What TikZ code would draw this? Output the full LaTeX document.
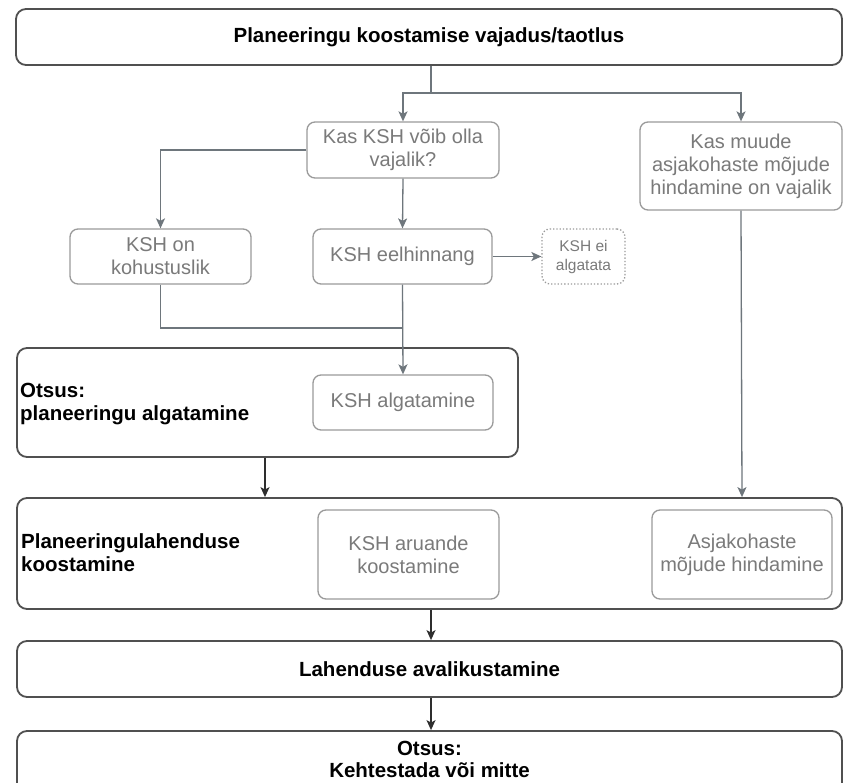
\documentclass[tikz,border=0pt]{standalone}
\usepackage{fontspec}
\setmainfont{Liberation Sans}
\usetikzlibrary{arrows.meta}
\definecolor{frame}{HTML}{505050}
\definecolor{softframe}{HTML}{9A9A9A}
\definecolor{softtext}{HTML}{7A7A7A}
\definecolor{linkgray}{HTML}{6E767C}
\definecolor{linkdark}{HTML}{2E2E2E}
\tikzset{
  mainbox/.style={draw=frame, line width=1.8pt, rounded corners=10pt, inner sep=0pt,
    font=\bfseries\fontsize{20.5}{23}\selectfont, text=black, align=center},
  subbox/.style={draw=softframe, line width=1.3pt, rounded corners=8pt, inner sep=0pt,
    font=\fontsize{20}{23}\selectfont, text=softtext, align=center},
  dotbox/.style={subbox, dotted, font=\fontsize{15.5}{19}\selectfont},
  boxlabel/.style={anchor=west, inner sep=0pt, align=left, text=black,
    font=\bfseries\fontsize{20.5}{23}\selectfont},
  centerlabel/.style={inner sep=0pt, align=center, text=black,
    font=\bfseries\fontsize{20.5}{22}\selectfont},
  tip/.style={-{Stealth[length=10pt,width=9pt,inset=2.5pt]}},
  link/.style={draw=linkgray, line width=1.3pt},
  flow/.style={link, tip},
  mainflow/.style={draw=linkdark, line width=1.3pt, tip},
}
\begin{document}
\begin{tikzpicture}[x=1pt, y=-1pt]
\useasboundingbox (0,0) rectangle (843,783);
\clip (0,0) rectangle (843,783);
\fill[white] (0,0) rectangle (843,783);

% top request box
\node[mainbox, minimum width=826pt, minimum height=56pt] (need) at (429,37)
  {Planeeringu koostamise vajadus/taotlus};

% screening questions
\node[subbox, minimum width=192pt, minimum height=56pt] (kas) at (403,150)
  {Kas KSH võib olla\\vajalik?};
\node[subbox, minimum width=202pt, minimum height=88pt] (muude) at (741,166)
  {Kas muude\\asjakohaste mõjude\\hindamine on vajalik};

% second row
\node[subbox, minimum width=181pt, minimum height=55pt] (kohus) at (160.5,256.5)
  {KSH on\\kohustuslik};
\node[subbox, minimum width=179pt, minimum height=55pt] (eel) at (402.5,256.5)
  {KSH eelhinnang};
\node[dotbox, minimum width=83pt, minimum height=55pt] (ei) at (583.5,256.5)
  {KSH ei\\algatata};

% decision on initiating the plan
\node[mainbox, minimum width=501pt, minimum height=109pt] (otsus) at (267.5,402.5) {};
\node[boxlabel] (otsuslbl) at (20,404) {Otsus:\\planeeringu algatamine};
\node[subbox, minimum width=180pt, minimum height=55pt] (alg) at (403,402.5)
  {KSH algatamine};

% drafting the plan solution
\node[mainbox, minimum width=825pt, minimum height=111pt] (plan) at (429.5,553.5) {};
\node[boxlabel] (planlbl) at (21,553) {Planeeringulahenduse\\koostamine};
\node[subbox, minimum width=181pt, minimum height=89pt] (aru) at (408.5,554.5)
  {KSH aruande\\koostamine};
\node[subbox, minimum width=180pt, minimum height=89pt] (asja) at (742,554.5)
  {Asjakohaste\\mõjude hindamine};

% publication and final decision (runs past the lower edge)
\node[mainbox, minimum width=825pt, minimum height=56pt] (lah) at (429.5,669)
  {Lahenduse avalikustamine};
\node[mainbox, minimum width=825pt, minimum height=62pt] (keh) at (429.5,762) {};
\node[centerlabel] (kehlbl) at (429.5,759.5) {Otsus:\\Kehtestada või mitte};

% connectors
\coordinate (splitlow) at (431,93);
\draw[link] (need.south -| splitlow) -- (splitlow);
\draw[flow] (splitlow) -| (kas.north);
\draw[flow] (splitlow) -| (muude.north);
\draw[flow] (kas.west) -| (kohus.north);
\draw[flow] (kas.south) -- (eel.north);
\draw[flow] (eel.east) -- (ei.west);
\coordinate (merge) at (eel.south |- 0,328);
\draw[link] (kohus.south) |- (merge);
\draw[flow] (eel.south) -- (alg.north);
\draw[flow] (muude.south) -- (asja.north |- plan.north);
\draw[mainflow] (otsus.south -| 265,0) -- (plan.north -| 265,0);
\draw[mainflow] (plan.south -| 431,0) -- (lah.north -| 431,0);
\draw[mainflow] (lah.south -| 431,0) -- (keh.north -| 431,0);
\end{tikzpicture}
\end{document}
